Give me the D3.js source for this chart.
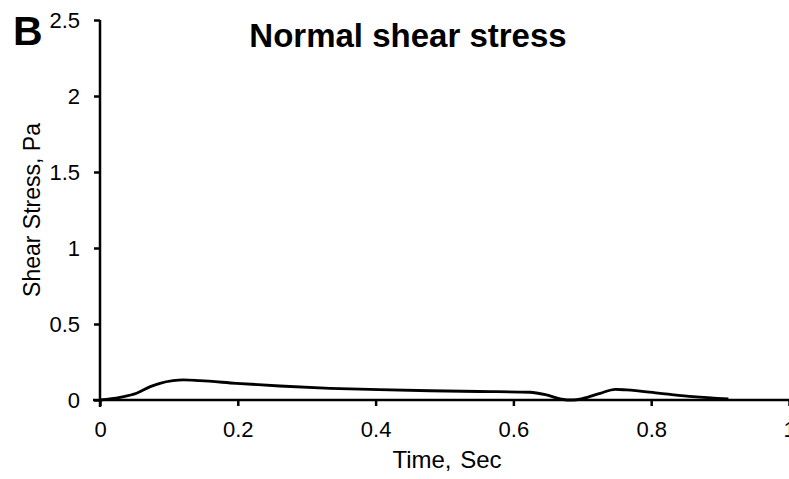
<!DOCTYPE html>
<html>
<head>
<meta charset="utf-8">
<script src="https://cdn.jsdelivr.net/npm/d3@7"></script>
<style>
  html, body { margin: 0; padding: 0; background: #fff; }
  svg { display: block; }
  text { font-family: "Liberation Sans", Arial, Helvetica, sans-serif; fill: #000; }
</style>
</head>
<body>
<svg id="chart" width="789" height="479"></svg>
<script>
// Data
const time = [0, 0.029, 0.053, 0.073, 0.087, 0.106, 0.121, 0.145, 0.198, 0.261, 0.334, 0.405, 0.479, 0.55, 0.624, 0.648, 0.668, 0.678, 0.687, 0.701, 0.726, 0.748, 0.764, 0.813, 0.861, 0.912];
const stress = [0, 0.018, 0.044, 0.088, 0.11, 0.127, 0.132, 0.127, 0.11, 0.092, 0.077, 0.068, 0.061, 0.056, 0.051, 0.033, 0.008, 0.0, 0.0, 0.01, 0.044, 0.07, 0.066, 0.044, 0.022, 0.007];
const xTicks = [0, 0.2, 0.4, 0.6, 0.8, 1];
const yTicks = [0, 0.5, 1, 1.5, 2, 2.5];
const titleText = "Normal shear stress";
const panelLabel = "B";
const xLabel = "Time, Sec";
const yLabel = "Shear Stress, Pa";

const svg = d3.select("#chart");
const x = d3.scaleLinear().domain([0, 1]).range([100, 789]);
const y = d3.scaleLinear().domain([0, 2.5]).range([400, 20]);

const xAxis = d3.axisBottom(x).tickValues(xTicks).tickFormat(d3.format("")).tickSize(6).tickPadding(15.5).tickSizeOuter(0);
const yAxis = d3.axisLeft(y).tickValues(yTicks).tickFormat(d3.format("")).tickSize(6).tickPadding(14).tickSizeOuter(0);

const gx = svg.append("g").attr("transform", "translate(0,400)").call(xAxis);
const gy = svg.append("g").attr("transform", "translate(100,0)").call(yAxis);

[gx, gy].forEach(g => {
  g.select(".domain").attr("stroke", "#000").attr("stroke-width", 2.5);
  g.selectAll(".tick line").attr("stroke", "#000").attr("stroke-width", 2.5);
  g.selectAll(".tick text").attr("font-size", 22).attr("font-family", "Liberation Sans, Arial, sans-serif").attr("fill", "#000");
});
// extend axis lines past the origin as in the reference
gx.select(".domain").attr("d", `M93,0H${x(1)}`);
gy.select(".domain").attr("d", `M0,${y(2.5)}V407`);

const line = d3.line().x((d, i) => x(time[i])).y((d, i) => y(stress[i])).curve(d3.curveMonotoneX);
svg.append("path")
  .datum(stress)
  .attr("d", line)
  .attr("fill", "none")
  .attr("stroke", "#000")
  .attr("stroke-width", 2.8)
  .attr("stroke-linejoin", "round");

svg.append("text").attr("x", 408).attr("y", 47).attr("text-anchor", "middle")
  .attr("font-size", 33).attr("font-weight", "bold").text(titleText);

svg.append("text").attr("x", 13).attr("y", 45)
  .attr("font-size", 41).attr("font-weight", "bold").text(panelLabel);

svg.append("text").attr("x", 447).attr("y", 468).attr("text-anchor", "middle")
  .attr("font-size", 24).attr("word-spacing", 2).text(xLabel);

svg.append("text").attr("transform", "translate(40,210) rotate(-90)").attr("text-anchor", "middle")
  .attr("font-size", 23).text(yLabel);
</script>
</body>
</html>
